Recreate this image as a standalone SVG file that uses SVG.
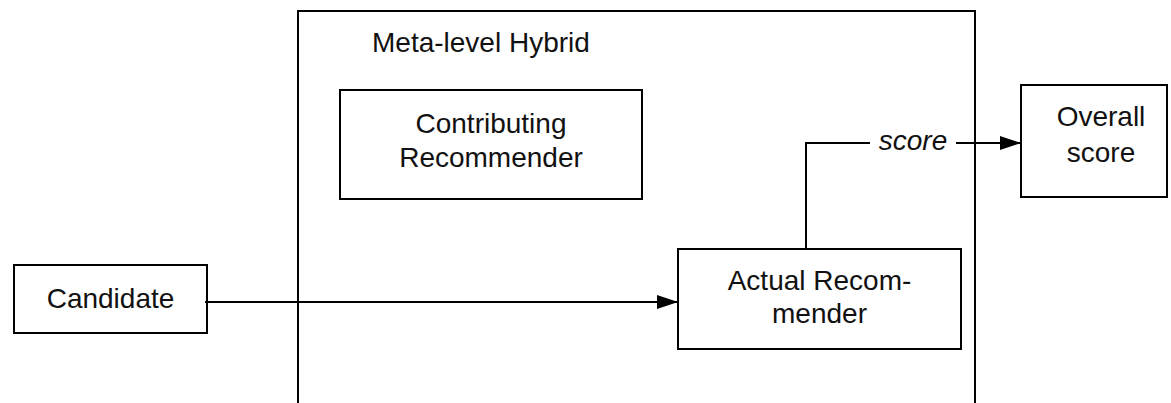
<svg xmlns="http://www.w3.org/2000/svg" width="1171" height="403" viewBox="0 0 1171 403">
  <style>
    .box { fill: #fff; stroke: #000; stroke-width: 2; }
    .frame { fill: none; stroke: #000; stroke-width: 2; }
    .lbl { font-family: "Liberation Sans", Arial, sans-serif; font-size: 28px; fill: #111; text-anchor: middle; }
    .title { text-anchor: start; }
    .edge { fill: none; stroke: #000; stroke-width: 2; }
    .ital { font-style: italic; }
  </style>
  <defs>
    <marker id="arrow" markerWidth="21" markerHeight="16" refX="21" refY="8" orient="auto" markerUnits="userSpaceOnUse">
      <path d="M0,1 L21,8 L0,15 Z" fill="#000"/>
    </marker>
  </defs>
  <rect width="1171" height="403" fill="#fff"/>

  <!-- meta-level hybrid container (open at the bottom edge) -->
  <g id="hybrid">
    <rect class="frame" x="298" y="11" width="677" height="420"/>
    <text class="lbl title" x="372" y="52">Meta-level Hybrid</text>
  </g>

  <g id="contributing">
    <rect class="box" x="340" y="90" width="302" height="109"/>
    <text class="lbl" x="491" y="133">Contributing</text>
    <text class="lbl" x="491" y="167">Recommender</text>
  </g>

  <g id="candidate">
    <rect class="box" x="14" y="265" width="193" height="68"/>
    <text class="lbl" x="110.5" y="308">Candidate</text>
  </g>

  <g id="actual">
    <rect class="box" x="678" y="249" width="283" height="100"/>
    <text class="lbl" x="819.5" y="290">Actual Recom-</text>
    <text class="lbl" x="819.5" y="323">mender</text>
  </g>

  <g id="overall">
    <rect class="box" x="1021" y="85" width="146" height="112"/>
    <text class="lbl" x="1101" y="126">Overall</text>
    <text class="lbl" x="1101" y="162">score</text>
  </g>

  <g id="connectors">
    <path class="edge" d="M205,302 H678" marker-end="url(#arrow)"/>
    <path class="edge" d="M806,249 V143 H870"/>
    <text class="lbl ital" x="913" y="150">score</text>
    <path class="edge" d="M956,143 H1021" marker-end="url(#arrow)"/>
  </g>
</svg>
